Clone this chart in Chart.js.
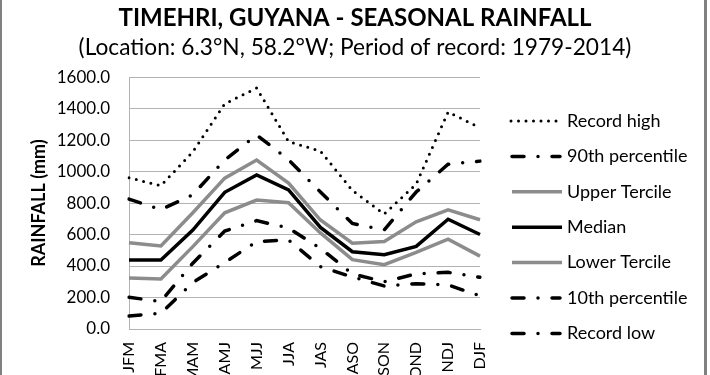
<!DOCTYPE html>
<html>
<head>
<meta charset="utf-8">
<script src="https://cdn.jsdelivr.net/npm/chart.js@4"></script>
<style>
  body { margin: 0; background: #fff; }
  #wrap { position: relative; width: 710px; height: 375px; overflow: hidden; }
  .edge { position: absolute; top: 0; height: 375px; background: #808080; }
</style>
</head>
<body>
<div id="wrap">
  <div style="width:710px;height:400px;position:absolute;left:0;top:0;">
    <canvas id="myChart"></canvas>
  </div>
  <div class="edge" style="left:0;width:2px;"></div>
  <div class="edge" style="left:704px;width:3px;"></div>
</div>
<script>
const seasons = ['JFM', 'FMA', 'MAM', 'AMJ', 'MJJ', 'JJA', 'JAS', 'ASO', 'SON', 'OND', 'NDJ', 'DJF'];
const recordHigh = [960, 910, 1125, 1430, 1530, 1190, 1130, 880, 730, 920, 1378, 1278];
const pct90 = [825, 758, 853, 1073, 1232, 1075, 870, 670, 630, 870, 1046, 1066];
const upperTercile = [548, 527, 738, 958, 1073, 927, 692, 545, 556, 681, 756, 694];
const median = [438, 438, 628, 868, 978, 883, 645, 491, 472, 525, 697, 600];
const lowerTercile = [324, 317, 523, 738, 819, 802, 610, 440, 408, 486, 570, 463];
const pct10 = [201, 175, 418, 622, 688, 641, 512, 350, 300, 350, 360, 328];
const recordLow = [82, 100, 295, 422, 555, 565, 396, 330, 273, 288, 280, 210];
const yTicks = [0, 200, 400, 600, 800, 1000, 1200, 1400, 1600];

const FONT = "Lato, 'Liberation Sans', sans-serif";
const dotted = [0, 7.5];
const dashDot = [12, 14, 0, 14];

function line(label, data, color, dash){
	return {
		label: label,
		data: data,
		borderColor: color,
		backgroundColor: color,
		borderWidth: dash === dotted ? 3 : 3.5,
		borderDash: dash,
		borderCapStyle: dash.length ? 'round' : 'butt',
		pointRadius: 0,
		tension: 0,
		fill: false
	};
}

// legend drawn by hand so it sits where the original one is
const sideLegend = {
	id: 'sideLegend',
	afterDraw(chart){
		const c = chart.ctx;
		chart.data.datasets.forEach((ds, i) => {
			const y = 121 + i * 35.4;
			c.save();
			c.strokeStyle = ds.borderColor;
			c.lineWidth = ds.borderWidth;
			c.lineCap = ds.borderCapStyle;
			c.setLineDash(ds.borderDash);
			c.beginPath();
			c.moveTo(ds.borderDash === dotted ? 511 : 512, y);
			c.lineTo(ds.borderDash.length ? 560 : 562, y);
			c.stroke();
			c.setLineDash([]);
			c.fillStyle = '#000';
			c.font = '18px ' + FONT;
			c.textBaseline = 'middle';
			c.fillText(ds.label, 567, y);
			c.restore();
		});
	}
};

const ctx = document.getElementById('myChart').getContext('2d');
const myChart = new Chart(ctx, {
	type: 'line',
	data: {
		labels: seasons,
		datasets: [
			line('Record high', recordHigh, '#000', dotted),
			line('90th percentile', pct90, '#000', dashDot),
			line('Upper Tercile', upperTercile, '#8c8c8c', []),
			line('Median', median, '#000', []),
			line('Lower Tercile', lowerTercile, '#8c8c8c', []),
			line('10th percentile', pct10, '#000', dashDot),
			line('Record low', recordLow, '#000', dashDot)
		]
	},
	options: {
		responsive: true,
		maintainAspectRatio: false,
		animation: false,
		layout: { padding: 0 },
		plugins: {
			legend: { display: false },
			tooltip: { enabled: false },
			title: {
				display: true,
				text: 'TIMEHRI, GUYANA - SEASONAL RAINFALL',
				color: '#000',
				font: { family: FONT, size: 24, weight: 'bold' },
				padding: { top: 3.6, bottom: 0 }
			},
			subtitle: {
				display: true,
				text: '(Location: 6.3°N, 58.2°W; Period of record: 1979-2014)',
				color: '#000',
				font: { family: FONT, size: 22.7 },
				padding: { top: 2, bottom: 15.4 }
			}
		},
		scales: {
			x: {
				grid: { display: false, drawTicks: false },
				border: { display: true, color: '#b3b3b3', width: 1 },
				ticks: {
					color: '#000',
					font: { family: FONT, size: 16 },
					minRotation: 90,
					maxRotation: 90,
					autoSkip: false,
					padding: 13
				},
				afterFit(scale){ scale.height = 71; }
			},
			y: {
				min: 0,
				max: 1600,
				afterBuildTicks(scale){ scale.ticks = yTicks.map(v => ({ value: v })); },
				grid: { color: '#b3b3b3', lineWidth: 1, drawTicks: false },
				border: { display: true, color: '#b3b3b3', width: 1 },
				ticks: {
					color: '#000',
					font: { family: FONT, size: 17 },
					padding: 19,
					callback: (v) => v.toFixed(1)
				},
				title: {
					display: true,
					text: 'RAINFALL (mm)',
					color: '#000',
					font: { family: FONT, size: 18, weight: 'bold' },
					padding: { top: 28, bottom: 0 }
				},
				afterFit(scale){ scale.width = 129; }
			},
			// empty axis on the right keeps room for the legend
			side: {
				position: 'right',
				grid: { display: false, drawTicks: false },
				border: { display: false },
				ticks: { display: false },
				afterFit(scale){ scale.width = 230; }
			}
		}
	},
	plugins: [sideLegend]
});
</script>
</body>
</html>
